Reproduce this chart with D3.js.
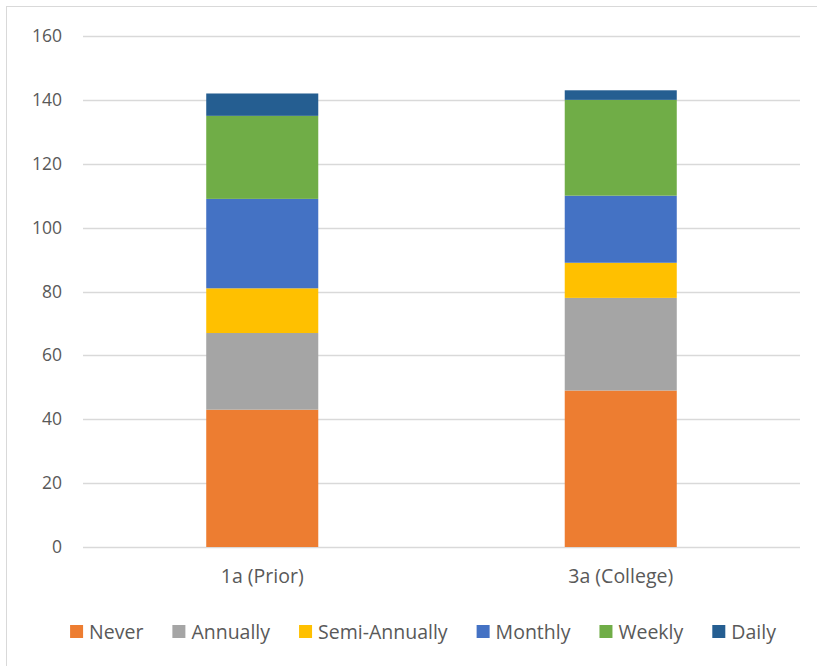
<!DOCTYPE html>
<html>
<head>
<meta charset="utf-8">
<script src="https://cdn.jsdelivr.net/npm/d3@7"></script>
<style>
  body { margin: 0; background: #fff; }
  svg text { font-family: "Open Sans", "Liberation Sans", sans-serif; fill: #595959; }
</style>
</head>
<body>
<svg id="chart" width="817" height="666"></svg>
<script>
// categories and stacked series
const categories = ['1a (Prior)', '3a (College)'];
const seriesNames = ['Never', 'Annually', 'Semi-Annually', 'Monthly', 'Weekly', 'Daily'];
const never = [43, 49];
const annually = [24, 29];
const semiAnnually = [14, 11];
const monthly = [28, 21];
const weekly = [26, 30];
const daily = [7, 3];
const yTicks = [0, 20, 40, 60, 80, 100, 120, 140, 160];
const colours = ['#ed7d31', '#a5a5a5', '#ffc000', '#4472c4', '#70ad47', '#255e91'];

const seriesValues = [never, annually, semiAnnually, monthly, weekly, daily];
const rows = categories.map((c, i) => {
    const row = { cat: c };
    seriesNames.forEach((s, k) => { row[s] = seriesValues[k][i]; });
    return row;
});

const svg = d3.select('#chart');
const margin = { left: 83, right: 17, top: 36, bottom: 119 };
const width = 817 - margin.left - margin.right;
const height = 666 - margin.top - margin.bottom;

// outer chart border (cut off at right/bottom like the source)
svg.append('rect')
    .attr('x', 6.5).attr('y', 6.5)
    .attr('width', 830).attr('height', 680)
    .attr('fill', 'none')
    .attr('stroke', '#d9d9d9');

const g = svg.append('g').attr('transform', `translate(${margin.left},${margin.top})`);

const x = d3.scaleBand().domain(categories).range([0, width]).paddingInner(0.6875).paddingOuter(0.34375);
const y = d3.scaleLinear().domain([0, 160]).range([height, 0]);
const colourScale = d3.scaleOrdinal().domain(seriesNames).range(colours);

// gridlines
g.append('g')
    .selectAll('line')
    .data(yTicks)
    .enter()
    .append('line')
    .attr('x1', 0).attr('x2', width)
    .attr('y1', d => Math.round(y(d)) + 0.5)
    .attr('y2', d => Math.round(y(d)) + 0.5)
    .attr('stroke', '#d9d9d9')
    .attr('stroke-width', 1.3);

// y axis labels
const yAxis = d3.axisLeft(y).tickValues(yTicks).tickSize(0).tickPadding(21);
g.append('g').call(yAxis)
    .call(a => a.select('.domain').remove())
    .selectAll('text')
    .attr('font-size', 17.5)
    .style('font-family', null);

const stack = d3.stack().keys(seriesNames);
const layers = stack(rows);

g.append('g')
    .selectAll('g')
    .data(layers)
    .enter()
    .append('g')
    .attr('fill', d => colourScale(d.key))
    .selectAll('rect')
    .data(d => d)
    .enter()
    .append('rect')
    .attr('x', d => x(d.data.cat))
    .attr('width', x.bandwidth())
    .attr('y', d => y(d[1]))
    .attr('height', d => y(d[0]) - y(d[1]));

// x axis labels
const xAxis = d3.axisBottom(x).tickSize(0).tickPadding(22);
g.append('g').attr('transform', `translate(0,${height})`).call(xAxis)
    .call(a => a.select('.domain').remove())
    .selectAll('text')
    .attr('font-size', 19.5)
    .style('font-family', null);

// legend
const legend = svg.append('g').attr('transform', 'translate(0,632)');
const items = legend.selectAll('g')
    .data(seriesNames)
    .enter()
    .append('g');
items.append('rect')
    .attr('width', 13).attr('height', 13)
    .attr('y', -7)
    .attr('fill', d => colourScale(d));
items.append('text')
    .attr('x', 19)
    .attr('dy', '0.35em')
    .attr('font-size', 19.5)
    .text(d => d);

let pos = 0;
const gap = 29;
const offsets = [];
items.each(function () {
    offsets.push(pos);
    const w = 19 + this.querySelector('text').getComputedTextLength();
    pos += w + gap;
});
const total = pos - gap;
const start = 69 + (708 - total) / 2;
items.attr('transform', (d, i) => `translate(${start + offsets[i]},0)`);
</script>
</body>
</html>
